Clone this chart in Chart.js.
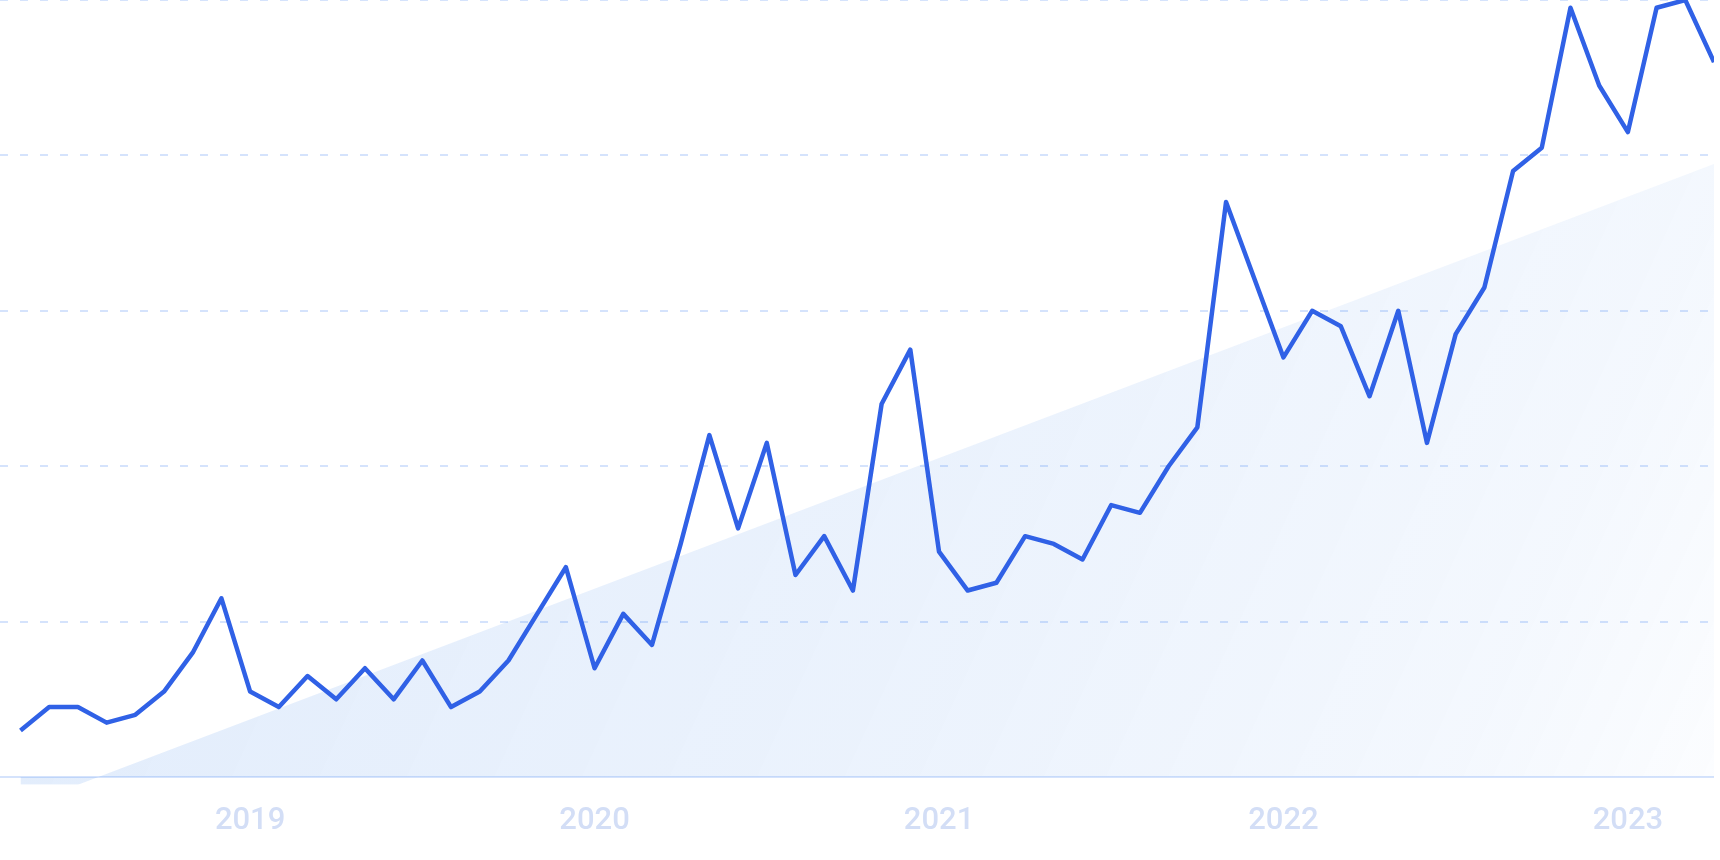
<!DOCTYPE html>
<html>
<head>
<meta charset="utf-8">
<script src="https://cdn.jsdelivr.net/npm/chart.js@4/dist/chart.umd.min.js"></script>
<style>
html,body{margin:0;padding:0;background:#ffffff;overflow:hidden;}
#wrap{width:1720px;height:860px;position:relative;}
</style>
</head>
<body>
<div id="wrap"><canvas id="c" width="1720" height="860" style="width:1720px;height:860px;display:block"></canvas></div>
<script>
// Monthly categories (May 2018 – April 2023)
const months = [
  '2018-05','2018-06','2018-07','2018-08','2018-09','2018-10','2018-11','2018-12',
  '2019-01','2019-02','2019-03','2019-04','2019-05','2019-06','2019-07','2019-08','2019-09','2019-10','2019-11','2019-12',
  '2020-01','2020-02','2020-03','2020-04','2020-05','2020-06','2020-07','2020-08','2020-09','2020-10','2020-11','2020-12',
  '2021-01','2021-02','2021-03','2021-04','2021-05','2021-06','2021-07','2021-08','2021-09','2021-10','2021-11','2021-12',
  '2022-01','2022-02','2022-03','2022-04','2022-05','2022-06','2022-07','2022-08','2022-09','2022-10','2022-11','2022-12',
  '2023-01','2023-02','2023-03','2023-04'
];
// Search interest values
const interest = [
  6, 9, 9, 7, 8, 11, 16, 23,
  11, 9, 13, 10, 14, 10, 15, 9, 11, 15, 21, 27,
  14, 21, 17, 30, 44, 32, 43, 26, 31, 24, 48, 55,
  29, 24, 25, 31, 30, 28, 35, 34, 40, 45, 74, 64,
  54, 60, 58, 49, 60, 43, 57, 63, 78, 81, 99, 89,
  83, 99, 100, 92
];
// Trend band key points
const trendMonths = ['2018-05', '2018-07', '2023-04'];
const trendValues = [-1, -1, 78.9];
// Axis ticks
const yearTicks = ['2019', '2020', '2021', '2022', '2023'];
const gridValues = [0, 20, 40, 60, 80, 100];

const linePoints = interest.map((v, i) => ({x: i, y: v}));
const trendPoints = trendMonths.map((m, i) => ({x: months.indexOf(m), y: trendValues[i]}));

function trendFill(ctx) {
  const chart = ctx.chart;
  const a = chart.chartArea;
  if (!a) return 'rgba(30,113,230,0.1)';
  const g = chart.ctx.createLinearGradient(a.left, a.top, a.right, a.bottom);
  g.addColorStop(0, 'rgba(30,113,230,0.14)');
  g.addColorStop(0.22, 'rgba(30,113,230,0.12)');
  g.addColorStop(0.6, 'rgba(30,113,230,0.085)');
  g.addColorStop(0.87, 'rgba(30,113,230,0.05)');
  g.addColorStop(1, 'rgba(30,113,230,0.015)');
  return g;
}

new Chart(document.getElementById('c'), {
  type: 'line',
  data: {
    datasets: [
      {
        label: 'Interest',
        data: linePoints,
        borderColor: '#3061e6',
        borderWidth: 4.5,
        borderJoinStyle: 'round',
        pointRadius: 0,
        tension: 0,
        fill: false,
        order: 0
      },
      {
        label: 'Trend',
        data: trendPoints,
        borderWidth: 0,
        borderColor: 'rgba(0,0,0,0)',
        backgroundColor: trendFill,
        pointRadius: 0,
        tension: 0,
        fill: 'origin',
        order: 1
      }
    ]
  },
  options: {
    responsive: false,
    devicePixelRatio: 1,
    animation: false,
    events: [],
    layout: {padding: {left: 0, right: 6, top: 0, bottom: 2}},
    plugins: {legend: {display: false}, tooltip: {enabled: false}},
    scales: {
      x: {
        type: 'linear',
        min: -0.714,
        max: 59,
        afterBuildTicks: s => { s.ticks = yearTicks.map(y => ({value: months.indexOf(y + '-01')})); },
        ticks: {
          callback: v => months[v] ? months[v].slice(0, 4) : '',
          color: '#d3def6',
          font: {family: 'Roboto', size: 31, weight: '500', lineHeight: 1.2},
          padding: 18,
          maxRotation: 0,
          autoSkip: false
        },
        grid: {display: false, drawTicks: false},
        border: {display: false}
      },
      y: {
        min: -1,
        max: 100,
        afterBuildTicks: s => { s.ticks = gridValues.map(v => ({value: v})); },
        ticks: {display: false},
        grid: {drawTicks: false, color: '#d5e3fc', lineWidth: 2},
        border: {display: false, dash: c => (c.tick && c.tick.value === 0) ? [] : [8, 12]}
      }
    }
  }
});
</script>
</body>
</html>
